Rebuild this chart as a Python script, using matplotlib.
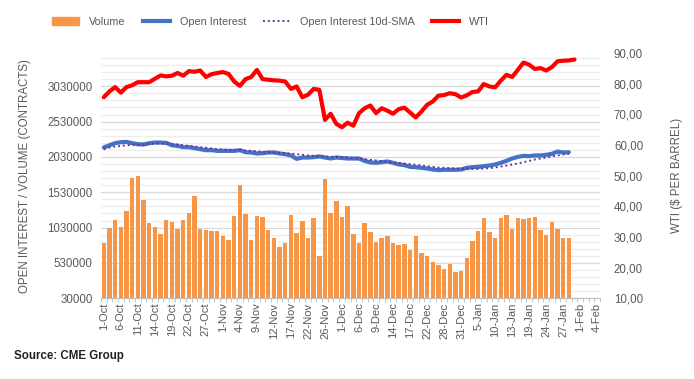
import numpy as np
import pandas as pd
import matplotlib
matplotlib.use("Agg")
import matplotlib.pyplot as plt
from matplotlib.lines import Line2D
from matplotlib.patches import Patch
from matplotlib.ticker import FixedLocator, FuncFormatter

plt.rcParams['font.family'] = ['Liberation Sans', 'DejaVu Sans']

# trading days shown on the category axis (1-Oct-2021 .. 4-Feb-2022)
holidays = ['2021-11-25', '2021-12-24', '2022-01-17']
days = [d for d in pd.bdate_range('2021-10-01', '2022-02-04') if d.strftime('%Y-%m-%d') not in holidays]
day_labels = ["%d-%s" % (d.day, d.strftime('%b')) for d in days]

# volume (contracts)
volume = [807, 1019, 1132, 1033, 1259, 1726, 1758, 1415, 1094, 1033,
          934, 1132, 1104, 1005, 1132, 1231, 1471, 1005, 991, 977,
          977, 906, 850, 1189, 1627, 1217, 850, 1189, 1175, 991,
          878, 751, 807, 1203, 949, 1118, 878, 1160, 623, 1712,
          1231, 1401, 1175, 1334, 939, 811, 1094, 967, 821, 878,
          906, 807, 779, 793, 713, 906, 666, 623, 539, 496,
          440, 510, 397, 411, 595, 840, 981, 1160, 967, 878,
          1160, 1203, 1009, 1160, 1146, 1160, 1175, 991, 920, 1104,
          1005, 878, 878]
volume = [v * 1000 for v in volume]

# open interest (contracts)
open_interest = [2164, 2196, 2225, 2239, 2243, 2225, 2210, 2206, 2225, 2234,
                 2234, 2229, 2196, 2186, 2168, 2168, 2154, 2140, 2126, 2126,
                 2116, 2116, 2116, 2116, 2126, 2097, 2093, 2079, 2083, 2093,
                 2093, 2079, 2069, 2051, 2003, 2022, 2022, 2027, 2037, 2022,
                 2008, 2022, 2015, 2008, 2008, 2008, 1974, 1952, 1947, 1956,
                 1966, 1947, 1924, 1914, 1890, 1885, 1876, 1867, 1853, 1843,
                 1848, 1848, 1848, 1853, 1876, 1885, 1890, 1900, 1909, 1924,
                 1947, 1974, 2008, 2031, 2045, 2041, 2051, 2051, 2060, 2074,
                 2107, 2093, 2097]
open_interest = [v * 1000 for v in open_interest]

# open interest 10d-SMA
oi_sma = [2140, 2164, 2178, 2186, 2196, 2201, 2201, 2206, 2215, 2220,
          2220, 2220, 2215, 2206, 2196, 2186, 2178, 2168, 2159, 2150,
          2140, 2135, 2130, 2126, 2126, 2121, 2116, 2112, 2102, 2097,
          2093, 2088, 2083, 2079, 2069, 2060, 2051, 2046, 2041, 2037,
          2032, 2032, 2027, 2022, 2013, 2008, 1998, 1989, 1980, 1970,
          1961, 1952, 1947, 1937, 1928, 1919, 1909, 1900, 1890, 1881,
          1876, 1872, 1867, 1862, 1862, 1862, 1862, 1867, 1872, 1881,
          1895, 1909, 1924, 1937, 1956, 1974, 1994, 2008, 2022, 2037,
          2051, 2065, 2074]
oi_sma = [v * 1000 for v in oi_sma]

# WTI ($ per barrel)
wti = [75.6, 77.5, 78.9, 77.1, 78.9, 79.5, 80.5, 80.5, 80.5, 81.6,
       82.7, 82.4, 82.6, 83.5, 82.6, 84.1, 83.9, 84.3, 82.2, 83.1,
       83.5, 83.8, 83.2, 80.7, 79.3, 81.5, 82.2, 84.5, 81.5, 81.3,
       81.1, 81.0, 80.7, 78.3, 79.1, 75.6, 76.4, 78.3, 78.0, 68.2,
       70.2, 66.9, 65.8, 67.3, 66.3, 70.4, 72.0, 72.9, 70.4, 72.0,
       71.2, 70.2, 71.7, 72.2, 70.6, 69.0, 70.9, 73.1, 74.2, 76.1,
       76.3, 76.9, 76.6, 75.5, 76.2, 77.3, 77.5, 79.9, 79.1, 78.8,
       81.0, 82.9, 82.2, 84.5, 86.9, 86.2, 84.8, 85.1, 84.3, 85.4,
       87.3, 87.5, 87.6, 87.9]

c_vol = '#F79646'
c_oi = '#4472C4'
c_sma = '#7030A0'
c_wti = '#FF0000'
c_txt = '#595959'

fig = plt.figure(figsize=(6.94, 3.79), dpi=100)
ax = fig.add_axes([0.1455, 0.2129, 0.7191, 0.6471])
ax2 = ax.twinx()

ax.bar(np.arange(len(volume)), volume, width=0.78, color=c_vol, zorder=2)
ax.plot(np.arange(len(open_interest)), open_interest, color=c_oi, linewidth=3,
        solid_capstyle='round', zorder=3)
ax.plot(np.arange(len(oi_sma)), oi_sma, color=c_sma, linewidth=1.4,
        linestyle=(0, (1, 1.5)), zorder=4)
ax2.plot(np.arange(len(wti)), wti, color=c_wti, linewidth=3,
         solid_capstyle='round', solid_joinstyle='round')

ax.set_xlim(-0.5, len(days) - 0.5)
ax.set_ylim(30000, 3500000)
ax.yaxis.set_major_locator(FixedLocator(np.arange(30000, 3500000, 500000)))
ax.yaxis.set_minor_locator(FixedLocator(np.arange(30000, 3500000, 100000)))
ax.yaxis.set_major_formatter(FuncFormatter(lambda v, p: "%d" % round(v)))
ax.grid(axis='y', which='major', color='#D9D9D9', linewidth=0.9, zorder=0)
ax.grid(axis='y', which='minor', color='#EDEDED', linewidth=0.9, zorder=0)
ax.set_axisbelow(True)

ax2.set_ylim(10, 90)
ax2.set_yticks(np.arange(10, 91, 10))
ax2.yaxis.set_major_formatter(FuncFormatter(lambda v, p: ("%.2f" % v).replace('.', ',')))

tick_idx = np.arange(0, len(days), 3)
ax.set_xticks(tick_idx)
ax.set_xticklabels([day_labels[i] for i in tick_idx], rotation=90)
ax.set_xticks(np.arange(-0.5, len(days), 1), minor=True)

for a in (ax, ax2):
    for s in ('top', 'left', 'right'):
        a.spines[s].set_visible(False)
    a.spines['bottom'].set_color('#BFBFBF')
ax.tick_params(axis='x', which='major', length=0, labelsize=8, colors=c_txt, pad=3)
ax.tick_params(axis='x', which='minor', length=3, color='#BFBFBF')
ax.tick_params(axis='y', which='both', length=0, labelsize=8.3, colors=c_txt, pad=6)
ax2.tick_params(axis='y', which='both', length=0, labelsize=8.3, colors=c_txt, pad=10)

ax.set_ylabel('OPEN INTEREST / VOLUME (CONTRACTS)', fontsize=8.3, color=c_txt, labelpad=12)
ax2.set_ylabel('WTI ($ PER BARREL)', fontsize=8.3, color=c_txt, labelpad=20)

handles = [Patch(color=c_vol),
           Line2D([], [], color=c_oi, linewidth=3),
           Line2D([], [], color=c_sma, linewidth=1.4, linestyle=(0, (1, 1.5))),
           Line2D([], [], color=c_wti, linewidth=3)]
labels = ['Volume', 'Open Interest', 'Open Interest 10d-SMA', 'WTI']
leg = fig.legend(handles, labels, loc='center', bbox_to_anchor=(0.39, 0.942), ncol=4,
                 frameon=False, fontsize=7.8, handlelength=2.5, handleheight=0.7,
                 columnspacing=1.6, handletextpad=0.9)
for t in leg.get_texts():
    t.set_color(c_txt)

fig.text(0.02, 0.053, 'Source: CME Group', fontsize=8.3, color='#222222', fontweight='bold')

plt.savefig('out.png', dpi=100)
